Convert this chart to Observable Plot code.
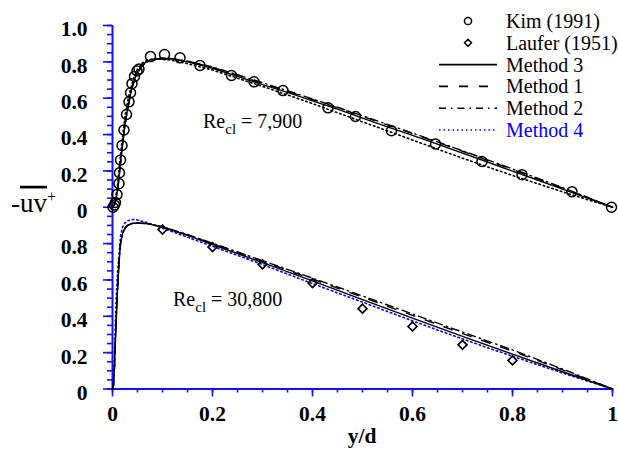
<!DOCTYPE html>
<html><head><meta charset="utf-8">
<script src="https://cdn.jsdelivr.net/npm/d3@7"></script>
<script src="https://cdn.jsdelivr.net/npm/@observablehq/plot@0.6"></script>
<style>body{margin:0;background:#fff;} #chart svg{display:block;}</style>
</head><body><div id="chart"></div>
<script>
// ---------- DATA ----------
// Top panel: Re_cl = 7,900 (values plotted with an offset of 1 on the shared y axis)
const kimX = [0.001, 0.004, 0.006, 0.009, 0.013, 0.014, 0.016, 0.019, 0.023, 0.028, 0.033, 0.036, 0.039, 0.044, 0.049, 0.053, 0.076, 0.104, 0.135, 0.175, 0.238, 0.283, 0.341, 0.431, 0.486, 0.558, 0.646, 0.739, 0.819, 0.919, 0.998];
const kimY = [0.0, 0.012, 0.026, 0.07, 0.13, 0.19, 0.26, 0.34, 0.425, 0.51, 0.58, 0.63, 0.68, 0.72, 0.75, 0.76, 0.829, 0.84, 0.822, 0.78, 0.725, 0.69, 0.642, 0.547, 0.499, 0.421, 0.348, 0.252, 0.179, 0.085, 0.0];

const topX = [0, 0.005, 0.01, 0.015, 0.02, 0.025, 0.03, 0.035, 0.04, 0.045, 0.05, 0.06, 0.07, 0.08, 0.1, 0.12, 0.15, 0.2, 0.25, 0.3, 0.35, 0.4, 0.45, 0.5, 0.55, 0.6, 0.65, 0.7, 0.75, 0.8, 0.85, 0.9, 0.95, 1.0];
const topMethod3 = [0, 0.02, 0.09, 0.22, 0.35, 0.46, 0.54, 0.61, 0.67, 0.71, 0.745, 0.785, 0.805, 0.815, 0.82, 0.815, 0.80, 0.765, 0.72, 0.675, 0.632, 0.585, 0.54, 0.49, 0.442, 0.395, 0.347, 0.298, 0.249, 0.199, 0.15, 0.1, 0.05, 0];
const topMethod1 = [0, 0.02, 0.085, 0.21, 0.34, 0.45, 0.535, 0.605, 0.665, 0.705, 0.74, 0.78, 0.80, 0.81, 0.82, 0.817, 0.802, 0.77, 0.726, 0.682, 0.638, 0.593, 0.547, 0.5, 0.453, 0.405, 0.357, 0.308, 0.258, 0.208, 0.157, 0.106, 0.053, 0];
const topMethod2 = [0, 0.02, 0.085, 0.21, 0.34, 0.45, 0.535, 0.605, 0.665, 0.705, 0.74, 0.78, 0.80, 0.81, 0.82, 0.818, 0.804, 0.772, 0.729, 0.685, 0.641, 0.596, 0.55, 0.503, 0.456, 0.408, 0.36, 0.311, 0.261, 0.211, 0.16, 0.108, 0.055, 0];
const topMethod4 = [0, 0.03, 0.12, 0.26, 0.39, 0.5, 0.58, 0.64, 0.69, 0.73, 0.76, 0.795, 0.81, 0.815, 0.815, 0.808, 0.79, 0.755, 0.71, 0.665, 0.618, 0.57, 0.52, 0.47, 0.42, 0.37, 0.32, 0.27, 0.222, 0.175, 0.13, 0.085, 0.042, 0];

// Bottom panel: Re_cl = 30,800
const lauferX = [0.1, 0.2, 0.3, 0.4, 0.5, 0.6, 0.7, 0.8];
const lauferY = [0.877, 0.781, 0.686, 0.583, 0.442, 0.344, 0.243, 0.157];

const botX = [0, 0.002, 0.004, 0.006, 0.008, 0.01, 0.013, 0.016, 0.02, 0.025, 0.03, 0.04, 0.05, 0.07, 0.1, 0.15, 0.2, 0.3, 0.4, 0.5, 0.6, 0.7, 0.8, 0.9, 1.0];
const botMethod3 = [0, 0.02, 0.12, 0.28, 0.42, 0.54, 0.69, 0.8, 0.855, 0.885, 0.9, 0.912, 0.913, 0.91, 0.89, 0.845, 0.795, 0.695, 0.595, 0.492, 0.39, 0.29, 0.192, 0.095, 0];
const botMethod1 = [0, 0.02, 0.12, 0.28, 0.42, 0.54, 0.69, 0.8, 0.855, 0.885, 0.9, 0.912, 0.913, 0.91, 0.892, 0.848, 0.8, 0.703, 0.605, 0.505, 0.405, 0.305, 0.208, 0.105, 0];
const botMethod2 = [0, 0.02, 0.12, 0.28, 0.42, 0.54, 0.69, 0.8, 0.855, 0.885, 0.9, 0.912, 0.913, 0.91, 0.893, 0.85, 0.802, 0.706, 0.61, 0.512, 0.413, 0.313, 0.215, 0.11, 0];
const botMethod4 = [0, 0.05, 0.2, 0.38, 0.53, 0.64, 0.74, 0.84, 0.89, 0.915, 0.925, 0.933, 0.93, 0.915, 0.885, 0.835, 0.785, 0.685, 0.58, 0.478, 0.375, 0.275, 0.18, 0.088, 0];

// Axis ticks
const xTickValues = [0, 0.2, 0.4, 0.6, 0.8, 1.0];
const xTickLabels = ["0", "0.2", "0.4", "0.6", "0.8", "1"];
const yTickValues = [0, 0.2, 0.4, 0.6, 0.8, 1.0, 1.2, 1.4, 1.6, 1.8, 2.0];
const yTickLabels = ["0", "0.2", "0.4", "0.6", "0.8", "0", "0.2", "0.4", "0.6", "0.8", "1.0"];

const legendLabels = ["Kim (1991)", "Laufer (1951)", "Method 3", "Method 1", "Method 2", "Method 4"];
const panelLabels = ["7,900", "30,800"];

// ---------- BUILD ----------
const TOP = 1; // offset of the top panel on the shared y axis
const serif = "'Liberation Serif', 'Times New Roman', serif";
const AXIS = "#1010f0";
const dash = {m3: null, m1: "9,11", m2: "8,4,1.5,4", m4: "1.5,3"};

function series(xs, ys, off) { return xs.map((x, i) => ({x, y: ys[i] + off})); }

const xMinor = d3.range(0, 1.0001, 0.05);
const yMinor = d3.range(0, 2.0001, 0.05);

function lineMark(xs, ys, off, d, color) {
  return Plot.line(series(xs, ys, off), {x: "x", y: "y", stroke: color, strokeWidth: d === dash.m4 ? 1.6 : 1.4, strokeDasharray: d, curve: "linear"});
}

const plot = Plot.plot({
  width: 618, height: 450,
  marginLeft: 112, marginRight: 6, marginTop: 25, marginBottom: 61.5,
  style: {fontFamily: serif, background: "#fff", overflow: "visible"},
  x: {domain: [0, 1]},
  y: {domain: [0, 2]},
  marks: [
    // minor ticks
    Plot.axisY(yMinor, {tickSize: 5, stroke: AXIS, fill: "none", label: null, strokeWidth: 1.6}),
    Plot.axisX(xMinor, {tickSize: 4, stroke: AXIS, fill: "none", label: null, strokeWidth: 1.6}),
    // major ticks
    Plot.axisY(yTickValues, {tickSize: 9, stroke: AXIS, fill: "none", strokeWidth: 1.6, label: null}),
    Plot.axisX(xTickValues, {tickSize: 8, stroke: AXIS, fill: "none", strokeWidth: 1.6, label: null}),
    // tick labels
    Plot.text(yTickValues, {y: d => d, frameAnchor: "left", textAnchor: "end", dx: -25, dy: 4,
      text: (d, i) => yTickLabels[i], fontSize: 21.5, fontWeight: "bold", fill: "black"}),
    Plot.text(xTickValues, {x: d => d, frameAnchor: "bottom", dy: 32,
      text: (d, i) => xTickLabels[i], fontSize: 21.5, fontWeight: "bold", fill: "black"}),
    Plot.ruleX([0], {stroke: AXIS, strokeWidth: 2}),
    Plot.ruleY([0], {stroke: AXIS, strokeWidth: 2}),
    // top panel
    lineMark(topX, topMethod4, TOP, dash.m4, "black"),
    lineMark(topX, topMethod2, TOP, dash.m2, "black"),
    lineMark(topX, topMethod1, TOP, dash.m1, "black"),
    lineMark(topX, topMethod3, TOP, dash.m3, "black"),
    // bottom panel
    lineMark(botX, botMethod4, 0, dash.m4, "blue"),
    lineMark(botX, botMethod2, 0, dash.m2, "black"),
    lineMark(botX, botMethod1, 0, dash.m1, "black"),
    lineMark(botX, botMethod3, 0, dash.m3, "black"),
    // symbols
    Plot.dot(series(kimX, kimY, TOP), {x: "x", y: "y", r: 5, stroke: "black", strokeWidth: 1.5, fill: "none"}),
    Plot.dot(series(lauferX, lauferY, 0), {x: "x", y: "y", r: 4, symbol: "diamond2", stroke: "black", strokeWidth: 1.7, fill: "none"})
  ]
});

document.getElementById("chart").appendChild(plot);

const svg = d3.select(plot);
const sx = plot.scale("x"), sy = plot.scale("y");

// x axis title
svg.append("text").attr("x", (sx.apply(0) + sx.apply(1)) / 2).attr("y", 443)
  .attr("text-anchor", "middle").attr("font-family", serif).attr("font-size", 21.5).attr("font-weight", "bold").text("y/d");

// y axis title  -uv+ (overlined uv)
const yt = svg.append("text").attr("x", 11).attr("y", sy.apply(TOP) + 5).attr("text-anchor", "start").attr("font-family", serif).attr("font-size", 27);
yt.append("tspan").text("-");
yt.append("tspan").attr("style", "text-decoration: overline").text("uv");
yt.append("tspan").attr("font-size", 16).attr("dy", -10).text("+");

// Re annotations
const annos = [{x: 0.182, y: 1.434, v: panelLabels[0]}, {x: 0.122, y: 0.455, v: panelLabels[1]}];
for (const a of annos) {
  const t = svg.append("text").attr("x", sx.apply(a.x)).attr("y", sy.apply(a.y)).attr("text-anchor", "start").attr("font-family", serif).attr("font-size", 20);
  t.append("tspan").text("Re");
  t.append("tspan").attr("font-size", 15).attr("dy", 6.5).text("cl");
  t.append("tspan").attr("dy", -6.5).text(" = " + a.v);
}

// legend
const lg = svg.append("g").attr("font-family", serif).attr("font-size", 20).attr("text-anchor", "start");
const rowY = i => 21 + i * 21.8;
legendLabels.forEach((lab, i) => {
  const y = rowY(i);
  const isM4 = lab === "Method 4";
  lg.append("text").attr("x", 506).attr("y", y + 7).attr("fill", isM4 ? "blue" : "black").text(lab);
  if (i === 0) lg.append("circle").attr("cx", 468).attr("cy", y).attr("r", 3.6).attr("fill", "none").attr("stroke", "black").attr("stroke-width", 1.5);
  else if (i === 1) lg.append("path").attr("d", d3.symbol(d3.symbolDiamond2, 30)()).attr("transform", `translate(468,${y})`).attr("fill", "none").attr("stroke", "black").attr("stroke-width", 1.6);
  else {
    const d = {"Method 3": dash.m3, "Method 1": "9,11", "Method 2": "7,5,1.5,5", "Method 4": "1.5,3"}[lab];
    lg.append("line").attr("x1", 439).attr("x2", 497).attr("y1", y).attr("y2", y)
      .attr("stroke", isM4 ? "blue" : "black").attr("stroke-width", 1.6).attr("stroke-dasharray", d);
  }
});
</script></body></html>
